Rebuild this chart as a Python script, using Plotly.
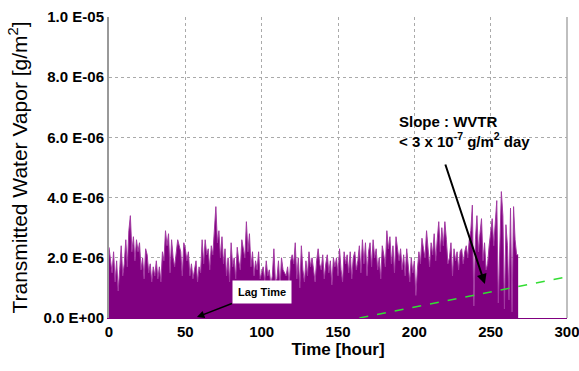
import plotly.graph_objects as go

# ---- data ----
hours = list(range(0, 269))
vapor_e6 = [
    2.35, 1.8, 1.5, 2.2, 1.2, 1.9, 0.9, 1.6, 2.4, 1.4,
    1.8, 2.6, 1.7, 2.9, 3.4, 2.2, 2.7, 1.9, 2.6, 2.2,
    2.5, 1.6, 2.0, 1.3, 2.3, 2.1, 1.5, 1.8, 1.2, 1.7,
    1.4, 1.9, 1.3, 1.7, 1.2, 2.2, 1.9, 2.9, 2.4, 2.8,
    1.5, 2.6, 2.0, 1.7, 2.2, 2.6, 2.4, 2.2, 1.4, 2.5,
    2.3, 1.9, 2.2, 1.4, 1.8, 1.3, 1.6, 1.9, 1.2, 1.7,
    1.5, 2.6, 1.8, 2.6, 2.1, 2.3, 1.6, 2.4, 2.1, 2.8,
    3.7, 2.5, 2.9, 2.0, 2.7, 1.8, 2.3, 1.4, 2.0, 1.2,
    2.5, 1.7, 2.0, 1.3, 2.35, 1.9, 1.6, 2.6, 2.2, 2.0,
    3.2, 2.2, 2.8, 1.7, 2.2, 1.4, 1.9, 1.6, 2.2, 1.3,
    1.5, 1.7, 1.2, 1.9, 1.4, 1.6, 1.1, 1.4, 2.3, 1.2,
    1.3, 1.9, 1.0, 2.0, 1.6, 1.5, 1.4, 1.7, 1.1, 1.9,
    2.1, 1.8, 2.5, 1.3, 2.0, 1.0, 2.4, 1.6, 1.2, 1.9,
    1.4, 2.2, 1.7, 2.0, 1.5, 1.2, 1.9, 2.3, 1.8, 1.6,
    2.1, 1.3, 1.8, 2.1, 1.5, 1.9, 1.1, 2.0, 1.7, 2.0,
    1.4, 2.3, 1.6, 1.2, 2.2, 1.8, 2.1, 1.5, 2.2, 1.3,
    2.0, 2.2, 1.6, 1.9, 2.4, 1.5, 2.6, 1.8, 2.5, 1.4,
    2.2, 2.5, 1.7, 2.6, 2.0, 2.3, 1.6, 2.0, 1.3, 2.4,
    2.1, 1.7, 2.9, 2.3, 2.7, 1.8, 2.4, 1.5, 2.7, 2.2,
    1.9, 2.3, 1.6, 2.1, 1.4, 2.3, 1.8, 1.2, 2.0, 1.5,
    1.9, 0.75, 1.6, 2.2, 1.8, 2.65, 2.3, 2.0, 2.9, 2.4,
    1.7, 2.5, 2.1, 2.8, 1.9, 2.6, 3.2, 2.2, 3.0, 2.4,
    3.2, 2.6, 1.8, 2.0, 2.5, 1.4, 2.3, 1.9, 2.2, 1.6,
    2.2, 2.3, 1.8, 2.2, 2.4, 2.0, 2.6, 2.9, 3.75, 0.4,
    2.6, 3.4, 2.2, 2.8, 3.3, 1.9, 2.5, 1.6, 1.8, 2.4,
    2.9, 3.3, 2.4, 3.1, 3.9, 0.5, 2.7, 4.2, 3.4, 0.3,
    3.1, 2.4, 0.6, 3.65, 0.2, 3.7, 2.6, 2.1, 2.1,
]
vapor = [v * 1e-6 for v in vapor_e6]

slope_x = [164, 300]
slope_y = [0.0, 1.37e-6]

y_tickvals = [0, 2e-6, 4e-6, 6e-6, 8e-6, 1e-5]
y_ticktext = ["0.0 E+00", "2.0 E-06", "4.0 E-06", "6.0 E-06", "8.0 E-06", "1.0 E-05"]
x_tickvals = [0, 50, 100, 150, 200, 250, 300]

FONT = "Arial, Liberation Sans, sans-serif"

fig = go.Figure()
fig.add_trace(go.Scatter(
    x=hours, y=vapor, mode="lines", fill="tozeroy",
    line=dict(color="#a23aa2", width=1), fillcolor="#800080",
    showlegend=False,
))
fig.add_trace(go.Scatter(
    x=slope_x, y=slope_y, mode="lines",
    line=dict(color="#33dd33", width=1.5, dash="dash"),
    showlegend=False,
))

# right border
fig.add_shape(type="line", xref="x domain", yref="y domain", x0=1, x1=1, y0=0, y1=1,
              line=dict(color="#aaaaaa", width=1.5))

# annotations
fig.add_annotation(
    x=188.6, y=6.2e-6, xref="x", yref="y",
    text="<b>Slope : WVTR<br>&lt; 3 x 10<sup>-7</sup> g/m<sup>2</sup> day</b>",
    showarrow=False, xanchor="left", yanchor="middle", align="left",
    font=dict(family=FONT, size=15, color="black"),
)
fig.add_annotation(
    x=246.2, y=1.13e-6, ax=220, ay=5.15e-6, axref="x", ayref="y",
    xref="x", yref="y", text="", showarrow=True,
    arrowhead=2, arrowsize=1, arrowwidth=2, arrowcolor="black",
)
fig.add_annotation(
    x=57.6, y=0.03e-6, ax=81.5, ay=0.5e-6, axref="x", ayref="y",
    xref="x", yref="y", text="", showarrow=True,
    arrowhead=2, arrowsize=1, arrowwidth=1.5, arrowcolor="black",
)
fig.add_annotation(
    x=100.2, y=0.85e-6, xref="x", yref="y",
    text="<b>Lag Time</b>", showarrow=False,
    bgcolor="white", borderpad=5,
    font=dict(family=FONT, size=11, color="black"),
)

fig.update_layout(
    width=579, height=371,
    margin=dict(l=109, r=12, t=17, b=53),
    paper_bgcolor="white", plot_bgcolor="white",
    font=dict(family=FONT, color="black"),
    xaxis=dict(
        range=[0, 300], tickvals=x_tickvals, ticks="", automargin=False,
        showgrid=True, gridcolor="#aaaaaa", griddash="dot", gridwidth=1,
        showline=True, linecolor="#800080", linewidth=1,
        tickfont=dict(family=FONT, size=15, color="black", weight="bold"),
        ticklabeloverflow="allow",
        title=dict(text="<b>Time [hour]</b>", font=dict(family=FONT, size=17), standoff=4),
        zeroline=False,
    ),
    yaxis=dict(
        range=[0, 1e-5], tickvals=y_tickvals, ticktext=y_ticktext, ticks="", automargin=False,
        showgrid=True, gridcolor="#aaaaaa", griddash="dot", gridwidth=1,
        showline=True, linecolor="#999999", linewidth=2,
        tickfont=dict(family=FONT, size=15, color="black", weight="bold"),
        title=dict(text="Transmitted Water Vapor [g/m<sup>2</sup>]", font=dict(family=FONT, size=21), standoff=10),
        zeroline=False,
    ),
)

fig.write_html(
    "out.html",
    config={"displayModeBar": False},
    post_script="document.body.style.margin='0';document.body.style.overflow='hidden';",
)
